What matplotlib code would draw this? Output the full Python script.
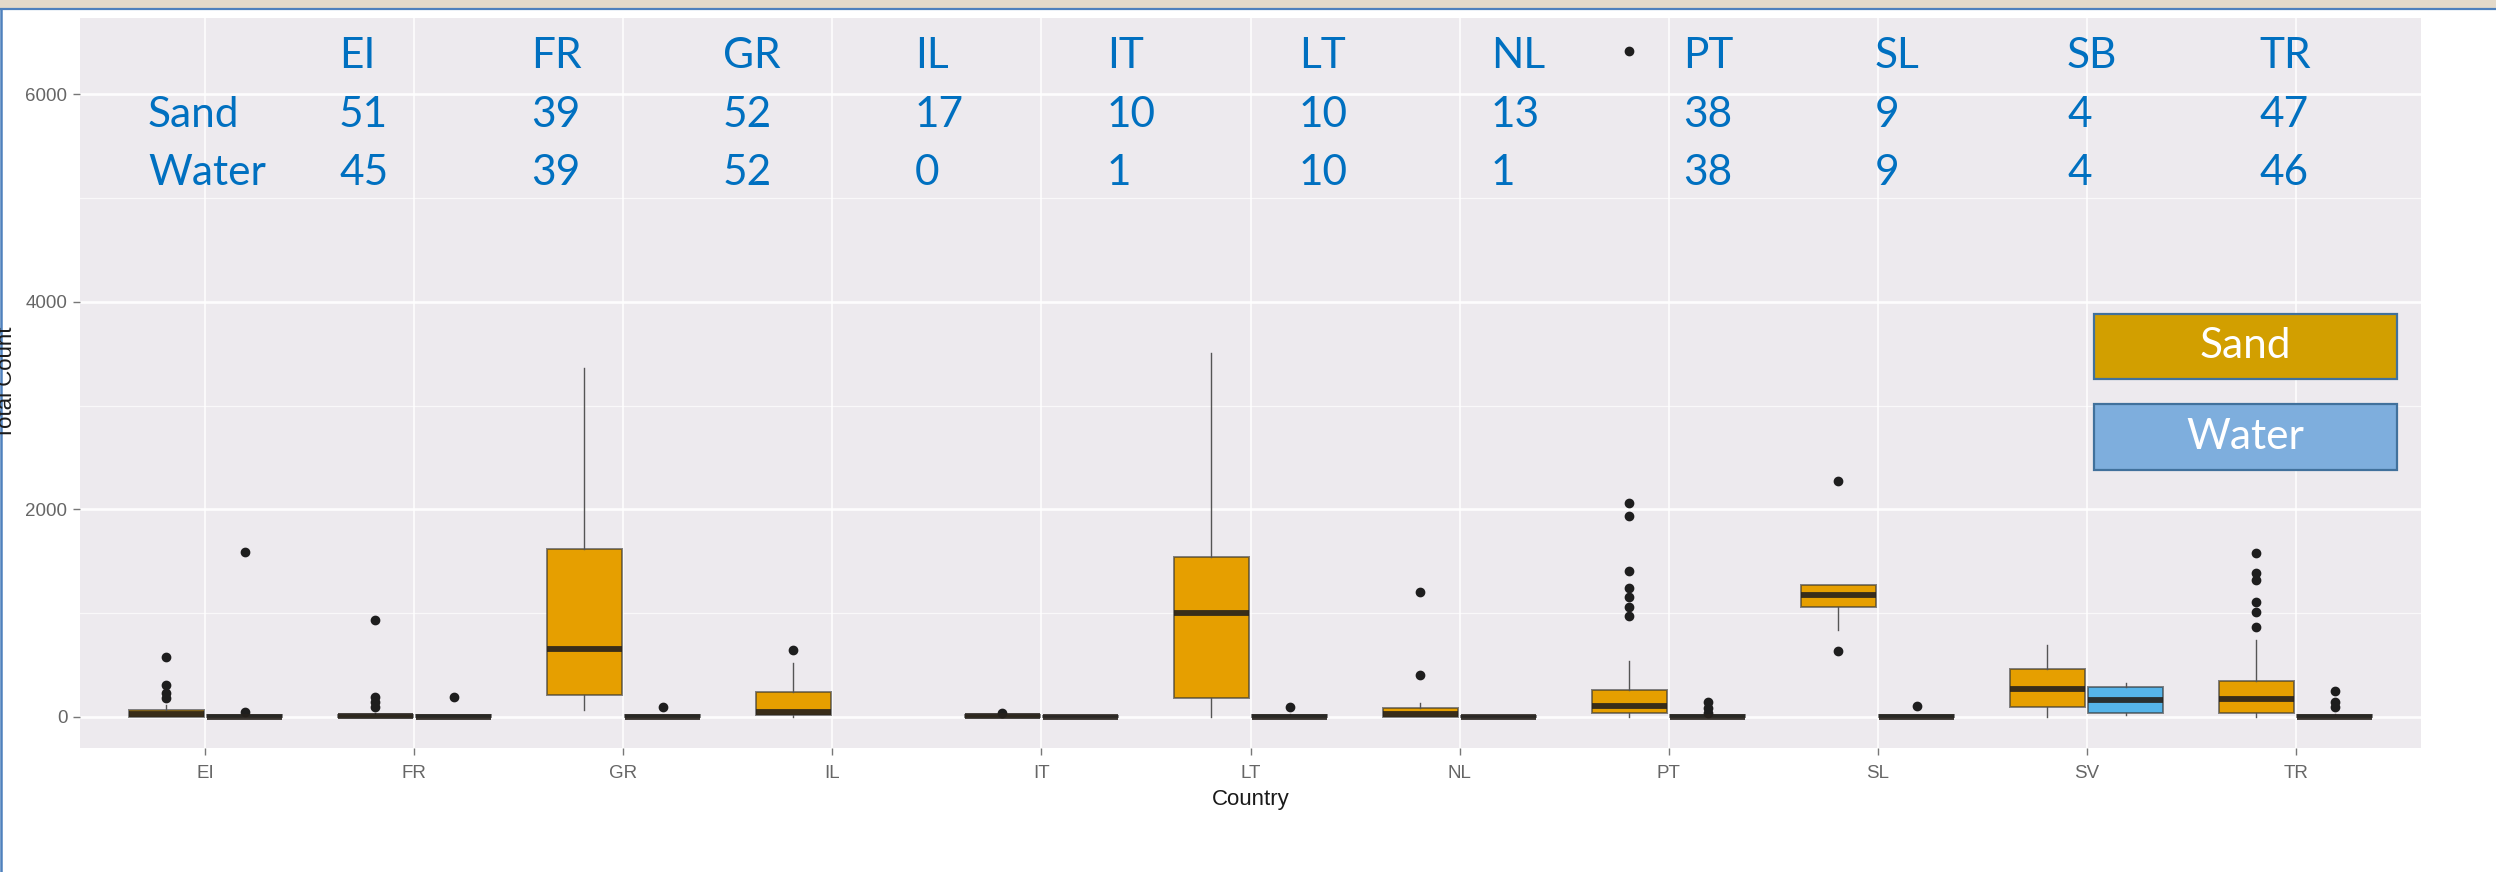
import matplotlib
matplotlib.use("Agg")
import matplotlib.pyplot as plt
from matplotlib.patches import Rectangle
from matplotlib.lines import Line2D
from matplotlib.ticker import MultipleLocator

# ---- data -------------------------------------------------------------
countries = ["EI", "FR", "GR", "IL", "IT", "LT", "NL", "PT", "SL", "SV", "TR"]

sand_q1 = [0, 0, 212, 19, 0, 183, 0, 38, 1060, 96, 38]
sand_med = [30, 5, 655, 48, 5, 1002, 30, 110, 1176, 270, 173]
sand_q3 = [70, 18, 1620, 241, 18, 1542, 90, 260, 1272, 463, 347]
sand_lo = [0, 0, 67, 0, 0, 0, 0, 0, 839, 0, 0]
sand_hi = [115, 40, 3368, 520, 25, 3508, 135, 540, 1272, 694, 742]
sand_fliers = [
    [580, 310, 230, 185],
    [935, 193, 145, 96],
    [],
    [646],
    [40],
    [],
    [1205, 405],
    [6420, 2063, 1937, 1407, 1243, 1160, 1063, 973],
    [2275, 636],
    [],
    [1581, 1388, 1320, 1108, 1012, 867],
]

# IL has no water samples
water_q1 = [0, 0, 0, None, 0, 0, 0, 0, 0, 38, 0]
water_med = [0, 0, 0, None, 0, 0, 0, 0, 0, 164, 0]
water_q3 = [15, 15, 15, None, 10, 15, 10, 15, 15, 289, 15]
water_lo = [0, 0, 0, None, 0, 0, 0, 0, 0, 20, 0]
water_hi = [20, 20, 20, None, 10, 30, 10, 30, 20, 328, 30]
water_fliers = [
    [1590, 50],
    [193],
    [96],
    [],
    [],
    [100],
    [],
    [145, 87, 40],
    [106],
    [],
    [250, 145, 96],
]

# sample-size table shown above the boxes
table_header = ["EI", "FR", "GR", "IL", "IT", "LT", "NL", "PT", "SL", "SB", "TR"]
sand_n = [51, 39, 52, 17, 10, 10, 13, 38, 9, 4, 47]
water_n = [45, 39, 52, 0, 1, 10, 1, 38, 9, 4, 46]

# ---- figure -----------------------------------------------------------
W, H = 2496, 872
fig = plt.figure(figsize=(W / 100, H / 100), dpi=100)
fig.patch.set_facecolor("white")


def fx(x):
    return x / W


def fy(y):
    return 1 - y / H


ax = fig.add_axes([fx(80), fy(748), (2421 - 80) / W, (748 - 18) / H])
ax.set_facecolor("#EDEAEE")
for s in ax.spines.values():
    s.set_visible(False)
ax.set_axisbelow(True)


def make_stats(q1, med, q3, lo, hi, fl):
    stats, pos = [], []
    for i in range(len(countries)):
        if q1[i] is None:
            continue
        stats.append(dict(q1=q1[i], med=med[i], q3=q3[i],
                          whislo=lo[i], whishi=hi[i], fliers=fl[i]))
        pos.append(i)
    return stats, pos


dodge = 0.1875
bw = 0.36
edge = (0.2, 0.2, 0.2, 0.6)
med_c = (0.15, 0.13, 0.11, 0.9)

for (q1, med, q3, lo, hi, fl), fill, off in [
    ((sand_q1, sand_med, sand_q3, sand_lo, sand_hi, sand_fliers), "#E69F00", -dodge),
    ((water_q1, water_med, water_q3, water_lo, water_hi, water_fliers), "#56B4E9", dodge),
]:
    stats, pos = make_stats(q1, med, q3, lo, hi, fl)
    ax.bxp(stats, positions=[p + off for p in pos], widths=bw,
           patch_artist=True, showcaps=False, manage_ticks=False,
           boxprops=dict(facecolor=fill, edgecolor=edge, linewidth=1.4),
           medianprops=dict(color=med_c, linewidth=4.2, solid_capstyle="butt"),
           whiskerprops=dict(color="#555555", linewidth=1.0),
           flierprops=dict(marker="o", markersize=6, markerfacecolor="#1E1E1E",
                           markeredgecolor="#1E1E1E"))

ax.set_xlim(-0.6, len(countries) - 0.4)
ax.set_ylim(-299, 6737)
ax.set_xticks(range(len(countries)))
ax.set_xticklabels(countries)
ax.yaxis.set_major_locator(MultipleLocator(2000))
ax.yaxis.set_minor_locator(MultipleLocator(1000))
ax.grid(which="major", axis="y", color="white", linewidth=1.9, alpha=0.9)
ax.grid(which="major", axis="x", color="white", linewidth=1.5, alpha=0.75)
ax.grid(which="minor", axis="y", color="white", linewidth=0.9, alpha=0.7)
ax.tick_params(which="major", length=5, width=1, color="#777777",
               labelcolor="#666666", labelsize=13.5)
ax.tick_params(axis="x", pad=7)
ax.tick_params(axis="y", pad=4)
ax.tick_params(which="minor", length=0)
for lab in ax.get_xticklabels() + ax.get_yticklabels():
    lab.set_fontfamily(["Liberation Sans", "DejaVu Sans"])
ax.set_xlabel("Country", fontsize=16, color="#1A1A1A", labelpad=5,
              fontfamily=["Liberation Sans", "DejaVu Sans"])
fig.text(fx(17), fy(383), "Total Count", rotation=90, ha="right", va="center",
         fontsize=16, color="#1A1A1A", fontfamily=["Liberation Sans", "DejaVu Sans"])

# ---- sample-size table ------------------------------------------------
blue = "#0070C0"
tfont = ["Lato", "DejaVu Sans"]
col0, col_step = 339, 192
fig.text(fx(148), fy(127), "Sand", fontsize=30.5, color=blue, va="baseline", fontfamily=tfont)
fig.text(fx(148), fy(185), "Water", fontsize=30.5, color=blue, va="baseline", fontfamily=tfont)
for j, (h, ns, nw) in enumerate(zip(table_header, sand_n, water_n)):
    x = fx(col0 + j * col_step)
    fig.text(x, fy(68), h, fontsize=30.5, color=blue, va="baseline", fontfamily=tfont)
    fig.text(x, fy(127), str(ns), fontsize=30.5, color=blue, va="baseline", fontfamily=tfont)
    fig.text(x, fy(185), str(nw), fontsize=30.5, color=blue, va="baseline", fontfamily=tfont)

# ---- legend boxes -----------------------------------------------------
for label, fill, y0, y1 in [("Sand", "#D29F00", 314, 379), ("Water", "#7EAEDD", 404, 470)]:
    fig.add_artist(Rectangle((fx(2094), fy(y1)), (2397 - 2094) / W, (y1 - y0) / H,
                             transform=fig.transFigure, facecolor=fill,
                             edgecolor="#41719C", linewidth=1.6))
    fig.text(fx((2094 + 2397) / 2), fy((y0 + y1) / 2), label, ha="center", va="center",
             fontsize=30.5, color="white", fontfamily=tfont)

# ---- slide frame ------------------------------------------------------
fig.add_artist(Rectangle((0, fy(8)), 1, 8 / H, transform=fig.transFigure,
                         facecolor="#E4DACA", edgecolor="none"))
fig.add_artist(Line2D([0, 1], [fy(9), fy(9)], transform=fig.transFigure,
                      color="#4F81BD", linewidth=1.6))
fig.add_artist(Line2D([fx(1), fx(1)], [0, fy(9)], transform=fig.transFigure,
                      color="#4F81BD", linewidth=1.8))

fig.savefig("out.png", dpi=100)
